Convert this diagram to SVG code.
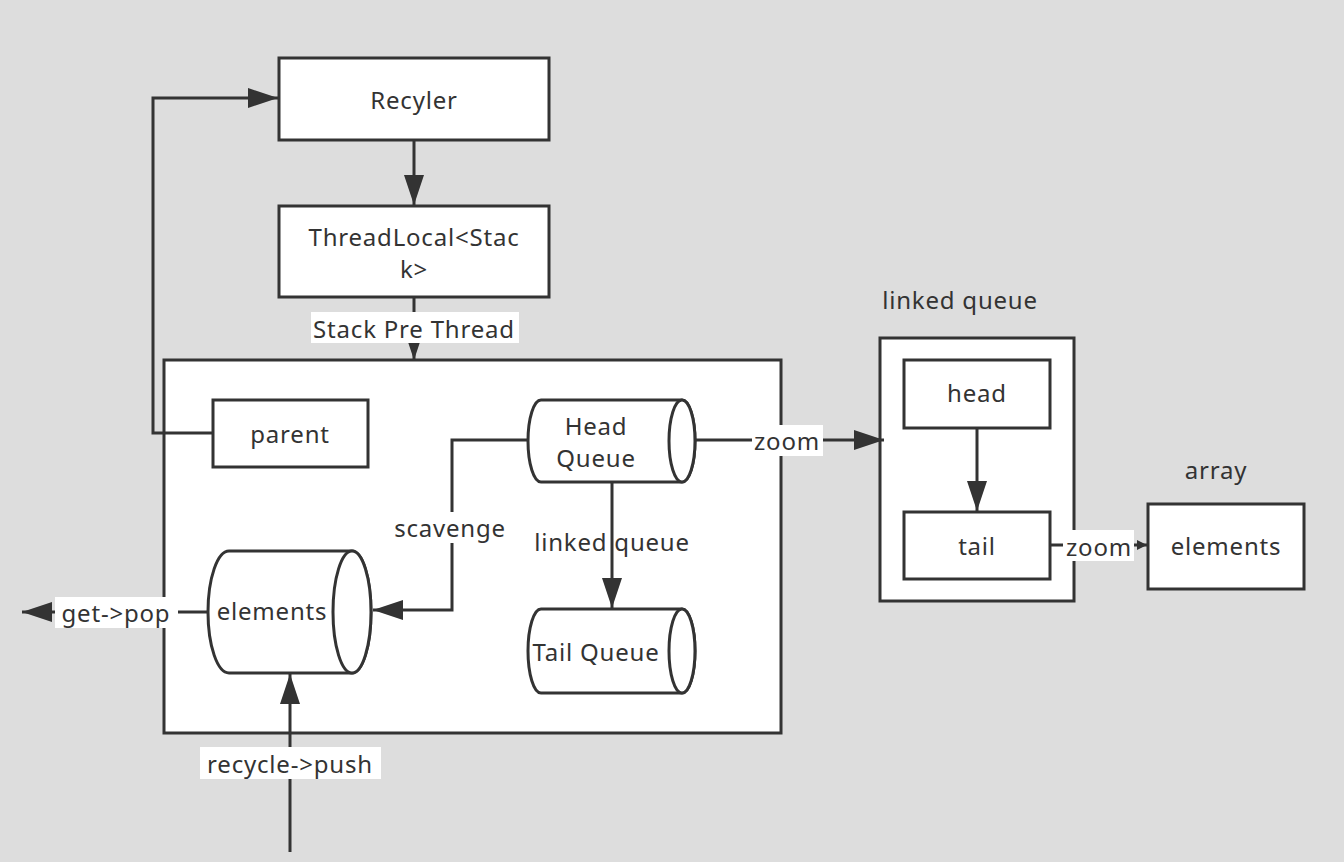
<svg xmlns="http://www.w3.org/2000/svg" width="1344" height="862" viewBox="0 0 1344 862">
<style>
.box{fill:#fff;stroke:#333;stroke-width:3}
.ln{fill:none;stroke:#333;stroke-width:3}
text{font-family:"Noto Sans","Open Sans","DejaVu Sans",sans-serif;font-size:24px;letter-spacing:0.8px;fill:#333;text-anchor:middle;dominant-baseline:central}
.lbl{fill:#fff}
</style>
<defs>
<marker id="ah" viewBox="0 0 10 10" refX="10" refY="5" markerWidth="10" markerHeight="10" markerUnits="userSpaceOnUse" orient="auto">
<path d="M0,0 L10,5 L0,10 Z" fill="#333"/>
</marker>
<marker id="big" viewBox="0 0 30 20" refX="30" refY="10" markerWidth="30" markerHeight="20" markerUnits="userSpaceOnUse" orient="auto">
<path d="M0,0 L30,10 L0,20 Z" fill="#333"/>
</marker>
</defs>
<rect width="1344" height="862" fill="#dddddd"/>
<g id="container"><rect class="box" x="164" y="360" width="617" height="373"/></g>
<g id="linkedqueue"><rect class="box" x="880" y="338" width="194" height="263"/><text x="960" y="299" >linked queue</text></g>
<g id="recyler"><rect class="box" x="279" y="58" width="270" height="82"/><text x="414" y="99">Recyler</text></g>
<g id="threadlocal"><rect class="box" x="279" y="206" width="270" height="91"/><text x="414" y="236">ThreadLocal&lt;Stac</text><text x="414" y="268">k&gt;</text></g>
<g id="parent"><rect class="box" x="213" y="400" width="155" height="67"/><text x="290" y="433">parent</text></g>
<g id="headqueue"><path class="box" d="M541,400 L682,400 A13,41 0 0 1 682,482 L541,482 A13,41 0 0 1 541,400 Z"/><ellipse class="box" cx="682" cy="441" rx="13" ry="41"/><text x="596" y="425">Head</text><text x="596" y="457">Queue</text></g>
<g id="tailqueue"><path class="box" d="M541,609 L682,609 A13,42 0 0 1 682,693 L541,693 A13,42 0 0 1 541,609 Z"/><ellipse class="box" cx="682" cy="651" rx="13" ry="42"/><text x="596" y="651">Tail Queue</text></g>
<g id="elements"><path class="box" d="M229,551 L352,551 A19,61 0 0 1 352,673 L229,673 A21,61 0 0 1 229,551 Z"/><ellipse class="box" cx="352" cy="612" rx="19" ry="61"/><text x="272" y="610">elements</text></g>
<g id="head"><rect class="box" x="904" y="360" width="146" height="68"/><text x="977" y="392">head</text></g>
<g id="tail"><rect class="box" x="904" y="512" width="146" height="67"/><text x="977" y="545">tail</text></g>
<g id="array"><rect class="box" x="1148" y="504" width="156" height="85"/><text x="1226" y="545">elements</text><text x="1216" y="469">array</text></g>
<g id="connectors">
<path class="ln" d="M414,141 L414,205" marker-end="url(#big)"/>
<path class="ln" d="M414,297 L414,360" marker-end="url(#big)"/>
<rect class="lbl" x="311" y="312" width="208" height="31"/><text x="414" y="328">Stack Pre Thread</text>
<path class="ln" d="M213,433 L153,433 L153,98 L278,98" marker-end="url(#big)"/>
<path class="ln" d="M612,482 L612,608" marker-end="url(#big)"/>
<text x="612" y="541">linked queue</text>
<path class="ln" d="M528,440 L452,440 L452,610 L373,610" marker-end="url(#big)"/>
<rect class="lbl" x="390" y="512" width="120" height="31"/><text x="450" y="527">scavenge</text>
<path class="ln" d="M696,440 L884,440" marker-end="url(#big)"/>
<rect class="lbl" x="752" y="425" width="71" height="31"/><text x="787" y="440">zoom</text>
<path class="ln" d="M977,428 L977,511" marker-end="url(#big)"/>
<path class="ln" d="M1050,545 L1147,545" marker-end="url(#ah)"/>
<rect class="lbl" x="1063" y="530" width="71" height="31"/><text x="1099" y="546">zoom</text>
<path class="ln" d="M207,612 L22,612" marker-end="url(#big)"/>
<rect class="lbl" x="55" y="597" width="123" height="31"/><text x="116" y="612">get-&gt;pop</text>
<path class="ln" d="M290,852 L290,674" marker-end="url(#big)"/>
<rect class="lbl" x="200" y="747" width="181" height="32"/><text x="290" y="763">recycle-&gt;push</text>
</g>
</svg>
